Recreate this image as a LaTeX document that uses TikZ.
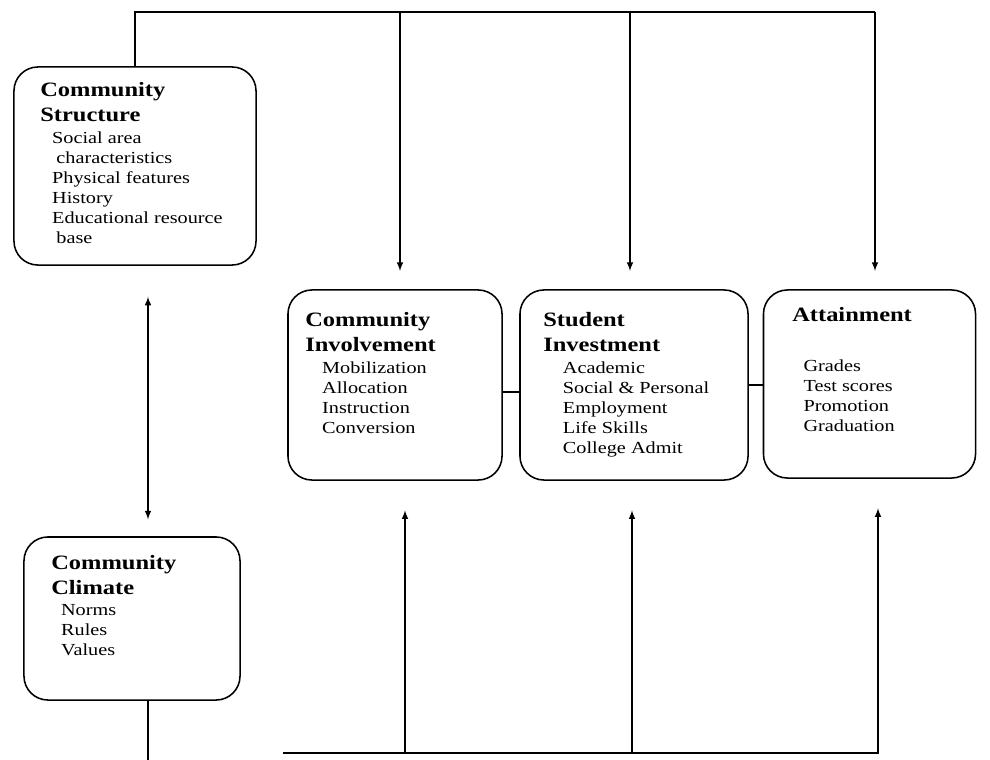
\documentclass[tikz,border=0pt]{standalone}
\usepackage{fontspec}
\setmainfont{Liberation Serif}[FakeStretch=1.2]
\usetikzlibrary{arrows, positioning}

\newcommand{\ttlfont}{\fontsize{14.5}{17.8}\selectfont\bfseries}
\newcommand{\itemfont}{\fontsize{12}{14.2}\selectfont}

\tikzset{
  box/.style={draw, line width=1.1pt, rounded corners=17pt, inner sep=0pt},
  ttl/.style={font=\ttlfont, align=left, inner sep=0pt, anchor=north west},
  items/.style={font=\itemfont, align=left, inner sep=0pt},
  wire/.style={line width=1.1pt},
  arr/.style={wire, -latex}
}

\begin{document}
\begin{tikzpicture}[x=0.025cm, y=-0.025cm]
\useasboundingbox (0,0) rectangle (990,760);
%community structure
\node[box, minimum width=6.05cm, minimum height=4.95cm] (struct) at (135,166) {};
\node[ttl] (structttl) at (40,82) {Community\\Structure};
\node[items, below right=6.8pt and 8.5pt of structttl.south west] (structitems)
  {Social area\\\hspace*{3pt}characteristics\\Physical features\\History\\Educational resource\\\hspace*{3pt}base};
%community climate
\node[box, minimum width=5.4cm, minimum height=4.075cm] (climate) at (132,618.5) {};
\node[ttl] (climttl) at (51,555) {Community\\Climate};
\node[items, below right=6.8pt and 7pt of climttl.south west] (climitems)
  {Norms\\Rules\\Values};
%community involvement
\node[box, minimum width=5.35cm, minimum height=4.75cm] (inv) at (395,385) {};
\node[ttl] (invttl) at (305,312) {Community\\Involvement};
\node[items, below right=6.8pt and 12pt of invttl.south west] (invitems)
  {Mobilization\\Allocation\\Instruction\\Conversion};
%student investment
\node[box, minimum width=5.7cm, minimum height=4.75cm] (stud) at (634,385) {};
\node[ttl] (studttl) at (543,312) {Student\\Investment};
\node[items, below right=6.8pt and 14pt of studttl.south west] (studitems)
  {Academic\\Social \& Personal\\Employment\\Life Skills\\College Admit};
%attainment
\node[box, minimum width=5.3cm, minimum height=4.7cm] (att) at (869.5,384) {};
\node[ttl] (attttl) at (792,307) {Attainment};
\node[items, below right=27pt and 8pt of attttl.south west] (attitems)
  {Grades\\Test scores\\Promotion\\Graduation};
%links between the three boxes
\draw[wire] (inv.east |- 0,392) -- (stud.west |- 0,392);
\draw[wire] (stud.east |- 0,385) -- (att.west |- 0,385);
%structure <-> climate
\draw[wire, latex-latex, shorten <=22pt, shorten >=12pt] (struct.south -| 148,0) -- (climate.north -| 148,0);
%top bus with arrows down
\draw[wire] (struct.north) -- (struct.north |- 0,12) -- (875,12);
\foreach \b/\x in {inv/400, stud/630, att/875}
  \draw[arr, shorten >=13pt] (\x,12) -- (\b.north -| \x,0);
%bottom bus with arrows up
\draw[wire] (climate.south -| 148,0) -- (148,760);
\draw[wire] (283,753) -- (879,753);
\foreach \b/\x in {inv/405, stud/632, att/878}
  \draw[arr, shorten >=21pt] (\x,753) -- (\b.south -| \x,0);
\end{tikzpicture}
\end{document}
